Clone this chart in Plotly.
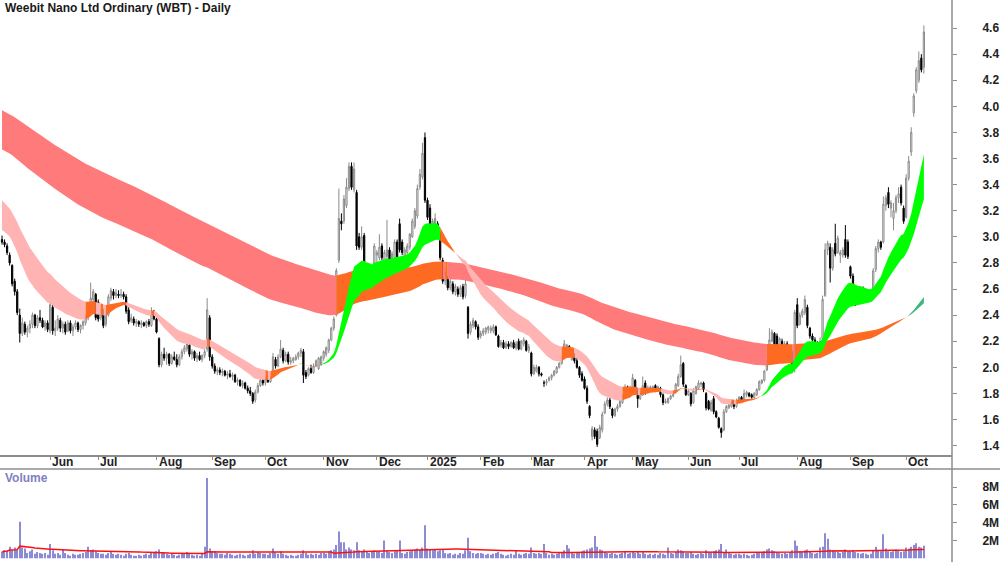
import numpy as np
import pandas as pd
import plotly.graph_objects as go

TITLE = "Weebit Nano Ltd Ordinary (WBT) - Daily"
FIRST_DAY = "2024-05-07"
LAST_DAY = "2025-10-10"
HOLIDAYS = ["2024-06-10", "2024-12-25", "2024-12-26", "2025-01-01", "2025-01-27",
            "2025-04-18", "2025-04-21", "2025-04-25", "2025-06-09"]

# (open, high, low, close) per trading day, month by month
M2024_05 = [(2.98,3.01,2.94,2.96),(2.96,2.98,2.92,2.94),(2.93,2.95,2.86,2.88),(2.86,2.88,2.78,2.80),(2.78,2.79,2.62,2.64),
            (2.66,2.68,2.55,2.58),(2.58,2.60,2.40,2.42),(2.40,2.45,2.19,2.26),(2.26,2.38,2.24,2.34),(2.33,2.35,2.25,2.27),
            (2.27,2.32,2.23,2.30),(2.30,2.36,2.26,2.33),(2.33,2.42,2.30,2.40),(2.40,2.41,2.30,2.32),(2.32,2.40,2.30,2.38),
            (2.38,2.44,2.34,2.36),(2.36,2.38,2.30,2.31),(2.31,2.36,2.28,2.34),(2.34,2.36,2.27,2.29)]
M2024_06 = [(2.28,2.62,2.26,2.48),(2.46,2.48,2.25,2.28),(2.28,2.36,2.24,2.30),(2.30,2.40,2.28,2.37),(2.36,2.38,2.27,2.30),
            (2.30,2.35,2.26,2.33),(2.33,2.35,2.25,2.27),(2.28,2.36,2.27,2.34),(2.34,2.36,2.26,2.28),(2.28,2.33,2.24,2.31),
            (2.31,2.36,2.29,2.34),(2.34,2.35,2.27,2.29),(2.29,2.33,2.26,2.32),(2.32,2.36,2.29,2.35),(2.34,2.40,2.32,2.38),
            (2.38,2.50,2.36,2.48),(2.44,2.65,2.40,2.53),(2.52,2.60,2.48,2.58),(2.56,2.57,2.36,2.38)]
M2024_07 = [(2.50,2.52,2.35,2.37),(2.38,2.45,2.36,2.43),(2.43,2.45,2.30,2.32),(2.33,2.42,2.31,2.40),(2.40,2.56,2.39,2.54),
            (2.53,2.61,2.51,2.59),(2.58,2.60,2.52,2.55),(2.55,2.60,2.53,2.57),(2.56,2.59,2.53,2.55),(2.55,2.60,2.53,2.56),
            (2.56,2.58,2.52,2.54),(2.54,2.56,2.41,2.43),(2.44,2.46,2.33,2.35),(2.36,2.41,2.34,2.38),(2.37,2.39,2.32,2.34),
            (2.34,2.37,2.31,2.35),(2.35,2.36,2.31,2.33),(2.33,2.36,2.30,2.34),(2.34,2.35,2.31,2.32),(2.32,2.36,2.30,2.35),
            (2.35,2.37,2.31,2.33),(2.32,2.46,2.31,2.43),(2.42,2.44,2.36,2.37)]
M2024_08 = [(2.37,2.38,2.26,2.27),(2.22,2.23,2.00,2.02),(2.02,2.12,2.00,2.10),(2.10,2.15,2.05,2.07),(2.07,2.12,2.02,2.10),
            (2.10,2.11,2.01,2.03),(2.03,2.10,2.02,2.08),(2.08,2.12,2.05,2.06),(2.06,2.10,2.00,2.02),(2.02,2.10,2.01,2.08),
            (2.08,2.14,2.06,2.12),(2.12,2.17,2.10,2.15),(2.14,2.19,2.12,2.18),(2.17,2.18,2.08,2.10),(2.10,2.14,2.06,2.12),
            (2.12,2.13,2.05,2.07),(2.07,2.11,2.04,2.09),(2.09,2.12,2.05,2.06),(2.06,2.10,2.04,2.09),(2.09,2.15,2.07,2.12),
            (2.14,2.53,2.12,2.44),(2.38,2.40,2.05,2.08)]
M2024_09 = [(2.08,2.10,1.99,2.01),(2.01,2.03,1.95,1.97),(1.97,2.00,1.94,1.98),(1.98,2.00,1.94,1.96),(1.96,1.99,1.93,1.97),
            (1.97,1.98,1.93,1.94),(1.94,1.97,1.91,1.95),(1.95,1.98,1.92,1.93),(1.93,1.96,1.90,1.94),(1.94,1.95,1.88,1.89),
            (1.89,1.92,1.86,1.90),(1.90,1.91,1.85,1.86),(1.86,1.90,1.84,1.88),(1.88,1.89,1.83,1.84),(1.84,1.86,1.80,1.82),
            (1.82,1.85,1.78,1.80),(1.80,1.81,1.72,1.74),(1.75,1.83,1.73,1.81),(1.81,1.88,1.80,1.86),(1.86,1.92,1.85,1.90),
            (1.90,1.94,1.86,1.88)]
M2024_10 = [(1.88,1.92,1.86,1.91),(1.91,1.93,1.88,1.89),(1.89,1.93,1.88,1.92),(1.93,2.11,1.92,2.08),(2.06,2.08,1.99,2.01),
            (2.01,2.10,2.00,2.08),(2.08,2.21,2.07,2.14),(2.13,2.15,2.03,2.05),(2.05,2.12,2.04,2.10),(2.10,2.12,2.02,2.04),
            (2.04,2.08,2.02,2.05),(2.05,2.08,2.03,2.07),(2.06,2.10,2.05,2.08),(2.08,2.12,2.06,2.11),(2.11,2.15,2.08,2.13),
            (2.12,2.14,1.88,1.94),(1.96,1.98,1.91,1.93),(1.94,2.00,1.93,1.99),(1.99,2.02,1.95,1.96),(1.96,2.03,1.95,2.01),
            (2.01,2.06,2.00,2.05),(1.99,2.08,1.98,2.07),(2.02,2.09,2.01,2.08)]
M2024_11 = [(2.07,2.13,2.05,2.12),(2.10,2.16,2.08,2.15),(2.13,2.22,2.11,2.21),(2.21,2.31,2.20,2.30),(2.30,2.39,2.28,2.37),
            (2.40,2.76,2.39,2.74),(2.82,3.37,2.80,3.14),(3.12,3.18,3.05,3.10),(3.12,3.32,3.10,3.29),(3.24,3.45,3.22,3.38),
            (3.37,3.57,3.35,3.54),(3.54,3.57,3.36,3.38),(3.36,3.57,3.34,3.52),(3.34,3.36,2.90,2.93),(3.00,3.03,2.90,2.92),
            (2.92,3.08,2.90,3.00),(3.01,3.03,2.76,2.78),(2.78,2.80,2.68,2.70),(2.70,2.78,2.68,2.76),(2.76,2.77,2.66,2.68),
            (2.70,2.95,2.69,2.93)]
M2024_12 = [(2.86,2.90,2.80,2.88),(2.84,3.02,2.82,2.92),(2.93,2.95,2.82,2.84),(2.82,2.90,2.80,2.88),(2.85,3.13,2.83,2.90),
            (2.90,2.92,2.78,2.80),(2.80,2.89,2.78,2.87),(2.84,2.98,2.82,2.96),(2.96,2.98,2.80,2.83),(3.10,3.14,2.88,2.90),
            (2.96,2.98,2.86,2.88),(2.86,2.92,2.83,2.90),(2.88,2.95,2.86,2.93),(2.92,3.03,2.90,3.02),(3.00,3.14,2.99,3.12),
            (3.08,3.22,3.06,3.20),(3.16,3.40,3.14,3.37),(3.38,3.52,3.36,3.48),(3.46,3.72,3.44,3.64),(3.76,3.80,3.26,3.28)]
M2025_01 = [(3.28,3.30,3.13,3.15),(3.22,3.25,3.06,3.08),(3.05,3.14,3.03,3.12),(3.10,3.18,3.06,3.14),(3.10,3.12,3.00,3.02),
            (3.02,3.04,2.82,2.84),(2.82,2.84,2.64,2.66),(2.66,2.74,2.63,2.71),(2.68,2.70,2.59,2.61),(2.61,2.68,2.59,2.66),
            (2.64,2.66,2.56,2.58),(2.58,2.64,2.55,2.62),(2.60,2.62,2.54,2.56),(2.56,2.63,2.54,2.61),(2.62,2.64,2.52,2.54),
            (2.55,2.73,2.53,2.64),(2.46,2.47,2.22,2.26),(2.27,2.35,2.25,2.33),(2.32,2.38,2.30,2.36),(2.35,2.36,2.29,2.31),
            (2.31,2.33,2.21,2.23)]
M2025_02 = [(2.24,2.28,2.22,2.26),(2.26,2.30,2.24,2.28),(2.27,2.31,2.25,2.30),(2.29,2.32,2.26,2.31),(2.28,2.32,2.26,2.30),
            (2.28,2.33,2.26,2.31),(2.31,2.32,2.24,2.25),(2.24,2.25,2.15,2.16),(2.17,2.21,2.15,2.19),(2.19,2.21,2.14,2.15),
            (2.15,2.20,2.14,2.18),(2.18,2.20,2.14,2.16),(2.16,2.20,2.15,2.19),(2.19,2.21,2.14,2.15),(2.15,2.20,2.13,2.18),
            (2.20,2.22,2.13,2.14),(2.14,2.21,2.13,2.20),(2.18,2.23,2.16,2.21),(2.20,2.21,2.12,2.13),(2.13,2.18,2.11,2.16)]
M2025_03 = [(2.11,2.12,1.93,1.95),(1.95,2.02,1.94,2.00),(1.97,2.02,1.96,2.00),(2.00,2.01,1.93,1.95),(1.95,1.96,1.93,1.94),
            (1.88,1.90,1.85,1.88),(1.88,1.91,1.86,1.89),(1.90,1.93,1.89,1.92),(1.92,1.95,1.90,1.94),(1.94,1.98,1.93,1.97),
            (1.96,2.01,1.95,2.00),(2.00,2.04,1.99,2.03),(2.03,2.09,2.02,2.08),(2.09,2.21,2.08,2.18),(2.13,2.18,2.12,2.17),
            (2.16,2.17,2.08,2.10),(2.06,2.12,2.05,2.10),(2.10,2.11,2.03,2.05),(2.05,2.08,1.99,2.00),(2.00,2.01,1.92,1.94),
            (1.95,1.97,1.89,1.90)]
M2025_04 = [(1.91,1.93,1.83,1.84),(1.84,1.86,1.72,1.74),(1.70,1.71,1.61,1.63),(1.47,1.55,1.44,1.53),(1.52,1.54,1.45,1.47),
            (1.51,1.53,1.39,1.41),(1.46,1.56,1.45,1.54),(1.52,1.66,1.50,1.64),(1.65,1.74,1.64,1.72),(1.72,1.77,1.70,1.75),
            (1.75,1.77,1.68,1.70),(1.68,1.69,1.61,1.63),(1.63,1.69,1.62,1.68),(1.68,1.72,1.66,1.70),(1.70,1.76,1.69,1.74),
            (1.73,1.79,1.72,1.78),(1.78,1.87,1.77,1.85),(1.85,1.86,1.78,1.80),(1.79,1.86,1.78,1.84)]
M2025_05 = [(1.85,1.95,1.84,1.92),(1.90,1.91,1.81,1.83),(1.82,1.84,1.69,1.76),(1.76,1.82,1.75,1.80),(1.79,1.93,1.78,1.86),
            (1.88,1.90,1.79,1.81),(1.81,1.86,1.80,1.84),(1.83,1.86,1.81,1.85),(1.84,1.86,1.82,1.85),(1.86,1.87,1.81,1.82),
            (1.82,1.86,1.81,1.85),(1.84,1.85,1.77,1.79),(1.79,1.80,1.71,1.73),(1.73,1.76,1.72,1.74),(1.73,1.77,1.72,1.76),
            (1.76,1.79,1.75,1.78),(1.78,1.82,1.77,1.81),(1.81,1.88,1.80,1.87),(1.86,1.95,1.85,1.93),(1.93,2.09,1.92,2.02),
            (2.03,2.04,1.85,1.87),(1.86,1.87,1.78,1.79)]
M2025_06 = [(1.79,1.83,1.78,1.82),(1.80,1.81,1.70,1.72),(1.73,1.84,1.72,1.82),(1.80,1.86,1.79,1.85),(1.84,1.90,1.83,1.88),
            (1.87,1.89,1.85,1.88),(1.88,1.89,1.81,1.83),(1.80,1.81,1.67,1.69),(1.74,1.75,1.67,1.68),(1.67,1.75,1.66,1.73),
            (1.76,1.78,1.64,1.66),(1.66,1.67,1.61,1.62),(1.61,1.62,1.53,1.54),(1.53,1.54,1.46,1.50),(1.52,1.68,1.51,1.66),
            (1.66,1.71,1.65,1.70),(1.69,1.72,1.68,1.71),(1.70,1.74,1.69,1.73),(1.74,1.75,1.68,1.70),(1.70,1.76,1.69,1.74)]
M2025_07 = [(1.74,1.78,1.73,1.77),(1.77,1.78,1.74,1.75),(1.75,1.83,1.74,1.80),(1.79,1.82,1.77,1.81),(1.80,1.81,1.77,1.78),
            (1.79,1.80,1.76,1.77),(1.77,1.81,1.76,1.80),(1.79,1.84,1.78,1.83),(1.83,1.90,1.82,1.89),(1.88,1.91,1.87,1.90),
            (1.90,1.98,1.89,1.97),(1.98,2.06,1.97,2.05),(2.07,2.30,2.06,2.21),(2.20,2.29,2.19,2.27),(2.26,2.27,2.12,2.14),
            (2.24,2.26,2.15,2.17),(2.17,2.23,2.16,2.22),(2.20,2.22,2.14,2.16),(2.15,2.20,2.13,2.18),(2.18,2.20,2.11,2.14),
            (2.15,2.16,2.09,2.11),(2.11,2.13,1.98,2.02),(2.02,2.44,1.96,2.42)]
M2025_08 = [(2.48,2.53,2.30,2.32),(2.33,2.42,2.32,2.40),(2.40,2.45,2.38,2.43),(2.42,2.55,2.40,2.52),(2.46,2.48,2.30,2.32),
            (2.30,2.31,2.22,2.24),(2.24,2.26,2.18,2.21),(2.21,2.23,2.15,2.16),(2.18,2.20,2.13,2.15),(2.15,2.23,2.12,2.20),
            (2.22,2.55,2.21,2.52),(2.55,2.95,2.54,2.90),(2.90,2.97,2.86,2.95),(2.92,2.95,2.65,2.76),(2.76,2.92,2.74,2.90),
            (2.95,3.10,2.85,2.87),(2.88,3.01,2.87,2.99),(2.86,2.90,2.80,2.88),(2.86,2.92,2.84,2.90),(2.98,3.09,2.84,2.86),
            (2.96,2.98,2.83,2.85)]
M2025_09 = [(2.77,2.78,2.68,2.70),(2.70,2.72,2.60,2.62),(2.60,2.61,2.47,2.50),(2.50,2.57,2.48,2.55),(2.54,2.62,2.52,2.60),
            (2.58,2.62,2.52,2.54),(2.54,2.58,2.50,2.56),(2.56,2.60,2.51,2.53),(2.52,2.58,2.50,2.57),(2.57,2.76,2.56,2.74),
            (2.75,2.93,2.73,2.91),(2.91,2.98,2.88,2.96),(2.96,2.97,2.90,2.92),(2.96,3.31,2.95,3.25),(3.24,3.32,3.20,3.30),
            (3.34,3.38,3.22,3.25),(3.22,3.28,3.15,3.26),(3.14,3.26,3.05,3.20),(3.20,3.32,3.18,3.30),(3.30,3.38,3.26,3.33),
            (3.38,3.40,3.24,3.26),(3.22,3.24,3.10,3.12)]
M2025_10 = [(3.15,3.48,3.14,3.45),(3.45,3.62,3.43,3.58),(3.65,3.84,3.62,3.80),(3.95,4.10,3.92,4.08),(4.12,4.30,4.10,4.28),
            (4.20,4.42,4.18,4.35),(4.37,4.40,4.26,4.28),(4.30,4.62,4.25,4.57)]

# daily volume in millions of shares
V2024_05 = [0.7,0.9,0.8,1.3,0.9,1.2,1.0,4.1,1.2,1.1,0.6,0.8,1.0,0.5,0.7,0.6,0.5,0.6,0.4]
V2024_06 = [1.6,0.9,0.5,0.6,0.4,1.0,0.6,0.4,0.3,0.5,0.4,0.4,0.5,0.6,0.7,1.3,0.9,1.0,0.8]
V2024_07 = [0.6,0.5,0.5,0.4,0.6,0.7,0.5,0.4,0.5,0.4,0.3,0.5,0.6,0.4,0.3,0.3,0.4,0.3,0.4,0.5,0.4,0.6,0.6]
V2024_08 = [0.8,1.0,0.7,0.6,0.5,0.4,0.5,0.4,0.3,0.4,0.5,0.6,0.7,0.5,0.4,0.3,0.4,0.3,0.5,1.3,9.0,1.1]
V2024_09 = [0.8,0.8,0.6,0.5,0.5,0.4,0.6,0.5,0.4,0.3,0.4,0.5,0.4,0.3,0.4,0.5,0.9,0.5,0.7,0.6,0.5]
V2024_10 = [0.5,0.4,0.6,1.1,0.7,0.5,0.8,0.5,0.4,0.3,0.4,0.3,0.3,0.4,0.5,0.9,0.6,0.4,0.5,0.4,0.5,0.4,0.6]
V2024_11 = [0.6,0.5,0.8,0.9,1.0,1.5,3.0,1.8,1.8,1.0,1.2,1.0,0.9,1.8,0.9,0.8,1.0,0.7,0.6,0.8,0.9]
V2024_12 = [0.7,0.8,0.6,2.0,0.9,0.7,0.6,0.8,0.9,2.0,0.6,0.5,0.7,0.8,0.9,1.0,1.1,1.0,1.2,3.7]
V2025_01 = [1.1,1.0,0.9,1.0,0.8,0.9,1.0,0.6,0.5,0.6,0.4,0.5,0.4,0.6,0.5,0.9,2.3,0.8,0.6,0.5,0.6]
V2025_02 = [0.6,0.5,0.4,0.5,0.4,0.5,0.6,0.7,0.5,0.4,0.3,0.4,0.5,0.4,0.9,0.5,0.4,0.5,0.6,0.5]
V2025_03 = [1.2,0.6,0.5,0.6,0.5,1.6,0.6,0.4,0.5,0.4,0.5,0.6,0.7,0.9,1.5,1.1,0.7,0.5,0.6,0.7,0.8]
V2025_04 = [0.9,1.0,1.1,1.2,2.5,1.3,1.0,0.9,0.7,0.6,0.5,0.6,0.5,0.4,0.5,0.6,0.7,0.5,0.6]
V2025_05 = [0.7,0.6,0.8,0.5,0.7,0.5,0.4,0.5,0.4,0.5,0.4,0.6,0.5,0.4,1.2,0.6,0.5,0.7,1.0,0.9,0.8,0.6]
V2025_06 = [0.6,0.7,0.5,0.4,0.5,0.6,0.5,0.9,0.7,0.6,0.8,0.9,1.0,1.6,0.7,1.0,0.6,0.5,0.4,0.5]
V2025_07 = [0.5,0.4,0.5,0.4,0.3,0.4,0.5,0.6,0.7,0.6,0.8,1.0,1.1,0.9,0.8,0.7,0.6,0.5,0.6,0.5,0.7,0.9,2.0]
V2025_08 = [1.4,0.8,0.7,0.9,1.0,0.7,0.6,0.5,0.6,1.2,1.3,2.8,2.2,1.0,0.9,0.8,0.7,0.6,0.7,1.0,0.8]
V2025_09 = [0.8,0.9,0.7,0.6,0.5,0.6,0.5,0.4,0.5,0.9,1.3,0.9,0.8,2.7,1.1,0.8,0.7,0.8,1.0,0.9,0.7,0.8]
V2025_10 = [1.2,1.1,1.3,1.5,1.7,1.3,1.2,1.4]

# ribbon settings (EMA periods and their values at the first visible day)
SHORT_PERIODS = [20, 36]
SHORT_SEEDS = [3.05, 3.28]
LONG_PERIODS = [150, 220]
LONG_SEEDS = [3.67, 3.97]
VOL_MA_PERIOD = 50

PRICE_TICKS = [1.4, 1.6, 1.8, 2.0, 2.2, 2.4, 2.6, 2.8, 3.0, 3.2, 3.4, 3.6, 3.8, 4.0, 4.2, 4.4, 4.6]
VOL_TICKS = [2, 4, 6, 8]

# ---------------------------------------------------------------------------
months = [M2024_05, M2024_06, M2024_07, M2024_08, M2024_09, M2024_10, M2024_11, M2024_12,
          M2025_01, M2025_02, M2025_03, M2025_04, M2025_05, M2025_06, M2025_07, M2025_08,
          M2025_09, M2025_10]
vmonths = [V2024_05, V2024_06, V2024_07, V2024_08, V2024_09, V2024_10, V2024_11, V2024_12,
           V2025_01, V2025_02, V2025_03, V2025_04, V2025_05, V2025_06, V2025_07, V2025_08,
           V2025_09, V2025_10]
rows = [r for m in months for r in m]
OPEN = np.array([r[0] for r in rows])
HIGH = np.array([r[1] for r in rows])
LOW = np.array([r[2] for r in rows])
CLOSE = np.array([r[3] for r in rows])
VOLUME = np.array([v for m in vmonths for v in m])
n = len(CLOSE)
x = np.arange(n)

dates = pd.bdate_range(FIRST_DAY, LAST_DAY)
dates = dates[~dates.isin(pd.to_datetime(HOLIDAYS))][:n]
month_starts = [i for i in range(1, len(dates)) if dates[i].month != dates[i - 1].month]
month_labels = ["2025" if dates[i].month == 1 else dates[i].strftime("%b") for i in month_starts]


def ema(values, period, seed):
    a = 2.0 / (period + 1)
    out = np.empty(len(values))
    v = seed
    out[0] = v
    for i in range(1, len(values)):
        v = v + a * (values[i] - v)
        out[i] = v
    return out


s_fast = ema(CLOSE, SHORT_PERIODS[0], SHORT_SEEDS[0])
s_slow = ema(CLOSE, SHORT_PERIODS[1], SHORT_SEEDS[1])
l_fast = ema(CLOSE, LONG_PERIODS[0], LONG_SEEDS[0])
l_slow = ema(CLOSE, LONG_PERIODS[1], LONG_SEEDS[1])

ORANGE = "#FF6A22"
SHORT_COLORS = {"up": "#00FF00", "down": "#FFB3B3", "mixed": ORANGE}
LONG_COLORS = {"up": "#3DB67C", "down": "#FF7A7A", "mixed": ORANGE}

fig = go.Figure()


def add_band(fast, slow, colors):
    upper = np.maximum(fast, slow)
    lower = np.minimum(fast, slow)
    states = []
    for f, s, c, lo in zip(fast, slow, CLOSE, lower):
        if f > s:
            states.append("up" if c > lo else "mixed")
        else:
            states.append("down" if c < lo else "mixed")
    i = 0
    while i < n:
        j = i
        while j + 1 < n and states[j + 1] == states[i]:
            j += 1
        end = min(j + 1, n - 1)
        xs = list(range(i, end + 1))
        px = xs + xs[::-1]
        py = list(upper[i:end + 1]) + list(lower[i:end + 1][::-1])
        fig.add_trace(go.Scatter(x=px, y=py, mode="lines", fill="toself",
                                 fillcolor=colors[states[i]], line=dict(width=0),
                                 hoverinfo="skip", showlegend=False))
        i = j + 1


add_band(l_fast, l_slow, LONG_COLORS)
add_band(s_fast, s_slow, SHORT_COLORS)

fig.add_trace(go.Candlestick(
    x=x, open=OPEN, high=HIGH, low=LOW, close=CLOSE,
    increasing=dict(line=dict(color="#8a8a8a", width=1), fillcolor="#ffffff"),
    decreasing=dict(line=dict(color="#000000", width=1), fillcolor="#000000"),
    whiskerwidth=0, hoverinfo="skip", showlegend=False))

vol_ma = pd.Series(VOLUME).rolling(VOL_MA_PERIOD, min_periods=1).mean().values
fig.add_trace(go.Bar(x=x, y=VOLUME, xaxis="x2", yaxis="y2", width=0.45,
                     marker=dict(color="#8C8CD4", line=dict(width=0)),
                     hoverinfo="skip", showlegend=False))
fig.add_trace(go.Scatter(x=x, y=vol_ma, xaxis="x2", yaxis="y2", mode="lines",
                         line=dict(color="#FF1010", width=1.5), hoverinfo="skip",
                         showlegend=False))

W, H = 1000, 562
AX_RIGHT = 952 / W
MAIN_BOTTOM = 1 - 455 / H
VOL_TOP = 1 - 469 / H
FONT = "Liberation Sans, Arial, sans-serif"

annotations = [
    dict(x=0.003, y=1 - 8 / H, xref="paper", yref="paper", xanchor="left", yanchor="middle",
         text="<b>" + TITLE + "</b>", showarrow=False, font=dict(family=FONT, size=12, color="#1a1a1a")),
    dict(x=0.003, y=1 - 478 / H, xref="paper", yref="paper", xanchor="left", yanchor="middle",
         text="<b>Volume</b>", showarrow=False, font=dict(family=FONT, size=12, color="#8080C0")),
]
for idx, lab in zip(month_starts, month_labels):
    annotations.append(dict(x=idx, y=1 - 462 / H, xref="x", yref="paper", xanchor="left",
                            yanchor="middle", text="<b>" + lab + "</b>", showarrow=False, xshift=0,
                            font=dict(family=FONT, size=12, color="#222222")))

fig.update_layout(
    width=W, height=H, margin=dict(l=0, r=0, t=0, b=0),
    paper_bgcolor="white", plot_bgcolor="white", showlegend=False,
    xaxis=dict(domain=[0, AX_RIGHT], range=[-0.8, 375.1], anchor="y",
               showgrid=False, zeroline=False, showline=True, linecolor="#8c8c8c", linewidth=1.5,
               tickvals=month_starts, ticktext=[""] * len(month_starts), ticks="outside",
               ticklen=3, tickcolor="#8c8c8c", rangeslider=dict(visible=False)),
    yaxis=dict(domain=[MAIN_BOTTOM, 1], range=[1.328, 4.815], side="right", anchor="x",
               showgrid=False, zeroline=False, showline=False,
               tickvals=PRICE_TICKS, ticktext=["%.1f" % v for v in PRICE_TICKS],
               ticks="outside", ticklen=4, tickcolor="#8c8c8c", ticklabelstandoff=23,
               tickfont=dict(family=FONT, size=12, color="#222222", weight="bold")),
    xaxis2=dict(domain=[0, AX_RIGHT], range=[-0.8, 375.1], anchor="y2", matches="x",
                showgrid=False, zeroline=False, showline=False, showticklabels=False, ticks=""),
    yaxis2=dict(domain=[0, VOL_TOP], range=[-0.415, 10.02], side="right", anchor="x2",
                showgrid=False, zeroline=False, showline=False,
                tickvals=VOL_TICKS, ticktext=["%dM" % v for v in VOL_TICKS],
                ticks="outside", ticklen=4, tickcolor="#8c8c8c", ticklabelstandoff=23,
                tickfont=dict(family=FONT, size=12, color="#222222", weight="bold")),
    annotations=annotations,
    shapes=[
        dict(type="line", xref="paper", yref="paper", x0=AX_RIGHT, x1=AX_RIGHT, y0=0, y1=1,
             line=dict(color="#8c8c8c", width=1.5)),
        dict(type="line", xref="paper", yref="paper", x0=0, x1=1, y0=VOL_TOP, y1=VOL_TOP,
             line=dict(color="#8c8c8c", width=1.5)),
    ],
)

fig.write_html("out.html")
